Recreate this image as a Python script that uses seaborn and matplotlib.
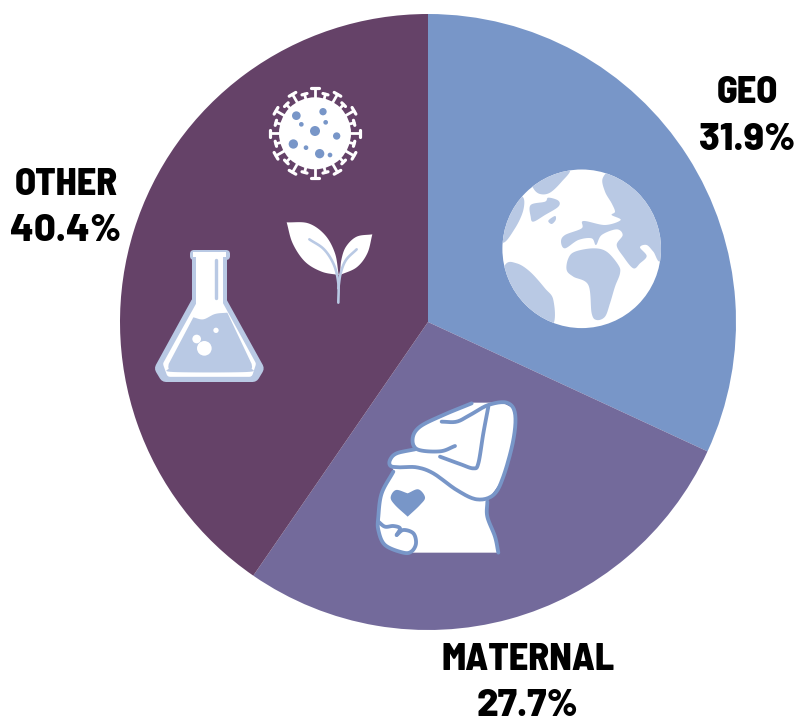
import matplotlib
matplotlib.use('Agg')
import matplotlib.pyplot as plt
from matplotlib.patches import Circle, Polygon
import numpy as np
import seaborn as sns

# Chart values
categories = ['GEO', 'MATERNAL', 'OTHER']
shares = [31.9, 27.7, 40.4]
slice_colors = ['#7896C8', '#736A9B', '#654268']

WHITE = '#FFFFFF'
BLUE = '#7896C8'
LIGHT = '#B9C9E4'
W, H = 800, 718

sns.set_theme(style='white')
plt.rcParams['font.family'] = ['Barlow Semi Condensed', 'Roboto Condensed', 'DejaVu Sans']

fig = plt.figure(figsize=(W / 100, H / 100), dpi=100)
ax = fig.add_axes([0, 0, 1, 1])

ax.pie(shares, colors=sns.color_palette(slice_colors), startangle=90, counterclock=False,
       radius=308, center=(428, H - 322), wedgeprops={'linewidth': 0})
ax.set_xlim(0, W)
ax.set_ylim(0, H)
ax.set_aspect('equal')
ax.axis('off')


def to_px(points, x0, y0):
    pts = np.array(points, dtype=float)
    return np.column_stack([x0 + pts[:, 0] / 3, H - (y0 + pts[:, 1] / 3)])


def smooth(pts, closed=False, n=12):
    # Catmull-Rom through the points
    pts = np.asarray(pts)
    if closed:
        p = np.vstack([pts[-1], pts, pts[0], pts[1]])
    else:
        p = np.vstack([2 * pts[0] - pts[1], pts, 2 * pts[-1] - pts[-2]])
    out = []
    t = np.linspace(0, 1, n, endpoint=False)[:, None]
    for i in range(1, len(p) - 2):
        a, b, c, d = p[i - 1], p[i], p[i + 1], p[i + 2]
        out.append(0.5 * (2 * b + (c - a) * t + (2 * a - 5 * b + 4 * c - d) * t ** 2
                          + (3 * b - a - 3 * c + d) * t ** 3))
    out = np.vstack(out)
    return out if closed else np.vstack([out, p[-2]])


def fill(pts, color, z=3, clip=None, edge=0):
    patch = Polygon(pts, closed=True, facecolor=color, edgecolor=color if edge else 'none',
                    linewidth=edge * 0.72, joinstyle='round', zorder=z)
    ax.add_patch(patch)
    if clip is not None:
        patch.set_clip_path(clip)
    return patch


def stroke(pts, color, px, z=4, cap='round'):
    ax.plot(pts[:, 0], pts[:, 1], color=color, lw=px * 0.72, zorder=z,
            solid_capstyle=cap, solid_joinstyle='round')


def draw_globe():
    cx, cy, r = 581.7, H - 248.8, 79.3
    disc = Circle((cx, cy), r, facecolor=WHITE, edgecolor='none', zorder=3)
    ax.add_patch(disc)
    x0, y0 = 490, 160
    lands = [
        [(240, 28), (215, 65), (180, 98), (150, 102), (130, 85), (120, 50), (190, 10)],
        [(97, 110), (100, 150), (75, 205), (37, 248), (15, 180), (50, 120)],
        [(122, 135), (165, 125), (175, 113), (205, 122), (205, 140), (165, 165), (130, 185), (122, 170)],
        [(175, 182), (195, 168), (197, 180), (185, 192)],
        [(338, 55), (345, 95), (365, 130), (375, 155), (365, 165), (392, 180), (345, 195), (280, 183),
         (275, 205), (225, 225), (213, 245), (225, 265), (265, 240), (305, 235), (318, 255), (335, 225),
         (380, 208), (398, 225), (380, 255), (400, 290), (430, 325), (450, 310), (470, 288), (450, 262),
         (470, 255), (490, 275), (513, 302), (550, 200), (450, 40), (370, 30)],
        [(255, 275), (310, 265), (350, 275), (385, 315), (390, 340), (375, 380), (360, 430), (345, 470),
         (320, 480), (305, 460), (295, 375), (250, 350), (230, 330), (235, 295)],
        [(45, 315), (80, 310), (120, 335), (165, 385), (190, 420), (188, 495), (120, 510), (20, 400)],
    ]
    for land in lands:
        fill(smooth(to_px(land, x0, y0), closed=True), LIGHT, z=4, clip=disc)


def draw_virus():
    x0, y0 = 250, 80
    cx, cy = 315, H - 133.3
    for k, ang in enumerate(np.deg2rad(np.arange(0, 360, 15))):
        tip = 45 if k % 2 == 0 else 40.5
        half = 3.8 if k % 2 == 0 else 2.6
        u = np.array([np.cos(ang), np.sin(ang)])
        v = np.array([-u[1], u[0]])
        c = np.array([cx, cy])
        stroke(np.array([c + 30 * u, c + tip * u]), WHITE, 2.8, z=3)
        stroke(np.array([c + tip * u - half * v, c + tip * u + half * v]), WHITE, 3.2, z=3)
    ax.add_patch(Circle((cx, cy), 36, facecolor=WHITE, edgecolor='none', zorder=3))
    dots = [(139, 107, 13), (219, 95, 11), (154, 133, 7), (227, 127, 7), (195, 153, 15),
            (260, 168, 11), (130, 192, 14), (168, 203, 7), (209, 221, 14), (240, 225, 7)]
    for zx, zy, zr in dots:
        ax.add_patch(Circle((x0 + zx / 3, H - (y0 + zy / 3)), zr / 3, facecolor=BLUE,
                            edgecolor='none', zorder=4))


def draw_plant():
    x0, y0 = 250, 80
    left = np.vstack([
        smooth(to_px([(110, 427), (175, 430), (225, 465), (255, 520), (266, 585)], x0, y0)),
        smooth(to_px([(266, 585), (215, 575), (165, 545), (128, 490), (110, 427)], x0, y0)),
    ])
    right = np.vstack([
        smooth(to_px([(367, 463), (320, 470), (288, 500), (274, 540), (270, 585)], x0, y0)),
        smooth(to_px([(270, 585), (320, 562), (352, 520), (367, 463)], x0, y0)),
    ])
    fill(left, WHITE)
    fill(right, WHITE)
    stroke(smooth(to_px([(178, 478), (222, 508), (252, 555), (265, 610), (265, 668)], x0, y0)), LIGHT, 2.6)
    stroke(smooth(to_px([(320, 508), (288, 540), (272, 580), (265, 625)], x0, y0)), LIGHT, 2.6)


def draw_flask():
    x0, y0 = 140, 240
    # rim and neck
    fill(to_px([(160, 38), (258, 38), (258, 48), (250, 48), (250, 200), (165, 200), (165, 48), (160, 48)], x0, y0),
         LIGHT, edge=7)
    # body, the thick edge rounds its corners
    fill(to_px([(173, 190), (242, 190), (350, 385), (338, 405), (78, 405), (66, 385)], x0, y0), LIGHT, edge=14)
    # white glass wall
    fill(to_px([(160, 37), (258, 37), (258, 50), (250, 50), (250, 200), (168, 200), (168, 50), (160, 50)], x0, y0),
         WHITE, z=4)
    fill(to_px([(178, 195), (240, 195), (337, 372), (328, 400), (90, 400), (80, 372)], x0, y0),
         WHITE, z=4, edge=7)
    # liquid
    top = smooth(to_px([(160, 232), (190, 238), (225, 222), (262, 218)], x0, y0))
    rest = smooth(to_px([(335, 372), (335, 385), (320, 396), (100, 396), (86, 385), (86, 372)], x0, y0))
    fill(np.vstack([top, rest]), LIGHT, z=5)
    # reflection in the neck
    stroke(to_px([(228, 60), (228, 175)], x0, y0), LIGHT, 3.4, z=5)
    for zx, zy, zr in [(170, 297, 13), (193, 325, 22), (228, 271, 8)]:
        ax.add_patch(Circle((x0 + zx / 3, H - (y0 + zy / 3)), zr / 3, facecolor=WHITE,
                            edgecolor='none', zorder=6))


def draw_mother():
    x0, y0 = 360, 390
    top_back = smooth(to_px([(335, 40), (250, 75), (180, 110), (158, 145), (172, 178)], x0, y0))
    body = np.vstack([
        to_px([(335, 38), (430, 38)], x0, y0),
        smooth(to_px([(430, 38), (465, 70), (458, 170), (430, 260), (388, 325)], x0, y0)),
        smooth(to_px([(382, 335), (382, 380), (405, 440), (415, 488)], x0, y0)),
        smooth(to_px([(130, 488), (75, 465), (52, 410), (65, 310), (100, 245)], x0, y0)),
        smooth(to_px([(100, 240), (90, 212), (110, 190), (165, 178)], x0, y0)),
        top_back[::-1],
    ])
    fill(body, WHITE)
    lines = [
        [(335, 40), (250, 75), (180, 110), (158, 145), (172, 178), (240, 184), (285, 168)],
        [(245, 95), (290, 95), (330, 75), (385, 45), (440, 38), (465, 70), (460, 150), (430, 260),
         (400, 315), (350, 328), (290, 300), (220, 250), (170, 232), (120, 232), (92, 228), (90, 210),
         (110, 190), (165, 178)],
        [(385, 50), (370, 130), (355, 220), (340, 235), (300, 222), (240, 200)],
        [(100, 245), (65, 310), (55, 380), (55, 420), (75, 465), (130, 488), (155, 484), (168, 460),
         (160, 430), (130, 420), (110, 435)],
        [(110, 435), (120, 415), (100, 408), (75, 410), (55, 395)],
        [(382, 335), (382, 380), (405, 440), (415, 488)],
    ]
    for line in lines:
        stroke(smooth(to_px(line, x0, y0)), BLUE, 3.8)
    heart_left = smooth(to_px([(143, 380), (105, 345), (92, 322), (108, 300), (143, 310)], x0, y0))
    heart_right = smooth(to_px([(143, 310), (175, 298), (195, 322), (180, 345), (143, 380)], x0, y0))
    fill(np.vstack([heart_left, heart_right]), BLUE, z=5)


draw_globe()
draw_virus()
draw_plant()
draw_flask()
draw_mother()

# Labels, placed by baseline
label_pos = {'GEO': (747, 103, 150), 'MATERNAL': (528, 670, 716), 'OTHER': (66, 195, 241)}
for name, share in zip(categories, shares):
    lx, y1, y2 = label_pos[name]
    ax.text(lx, H - y1, name, ha='center', va='baseline', fontsize=27.5, fontweight=800, color='black')
    ax.text(lx, H - y2, f'{share}%', ha='center', va='baseline', fontsize=27.5, fontweight=800, color='black',
            family=['Barlow', 'Roboto Condensed', 'DejaVu Sans'])

fig.savefig('out.png', dpi=100, facecolor='white')
